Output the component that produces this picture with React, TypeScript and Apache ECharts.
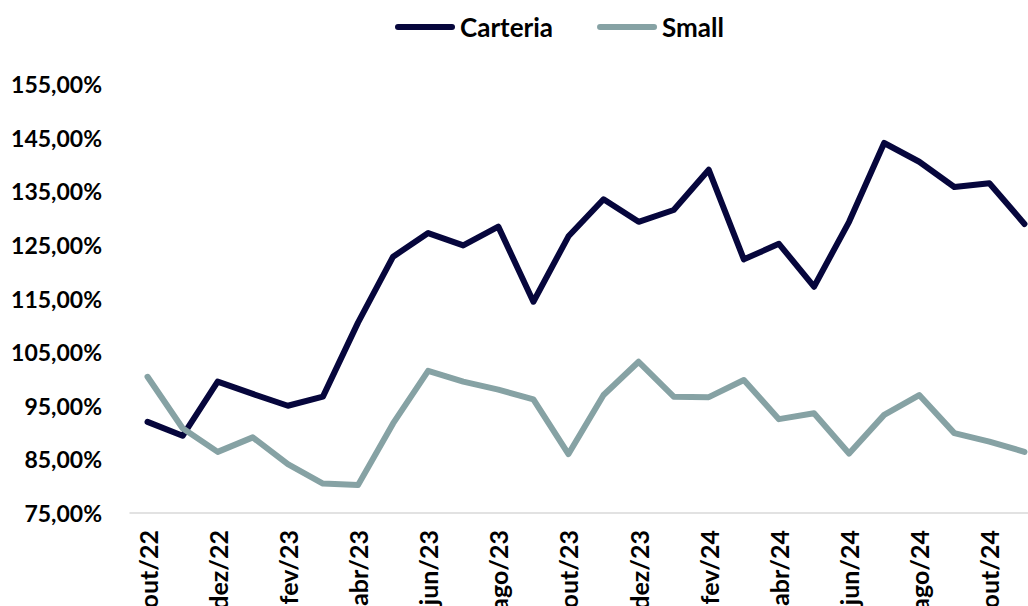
import React, { useEffect, useRef } from "react";
import * as echarts from "echarts";

const categories = [
  "out/22", "nov/22", "dez/22", "jan/23", "fev/23", "mar/23", "abr/23", "mai/23", "jun/23",
  "jul/23", "ago/23", "set/23", "out/23", "nov/23", "dez/23", "jan/24", "fev/24", "mar/24",
  "abr/24", "mai/24", "jun/24", "jul/24", "ago/24", "set/24", "out/24", "nov/24",
];

const carteria = [
  92.0, 89.4, 99.5, 97.2, 95.0, 96.7, 110.5, 122.8, 127.2,
  124.9, 128.4, 114.4, 126.6, 133.5, 129.3, 131.5, 139.0, 122.3,
  125.2, 117.2, 129.3, 144.0, 140.5, 135.8, 136.5, 128.9,
];

const small = [
  100.4, 90.8, 86.4, 89.1, 84.1, 80.5, 80.2, 91.7, 101.5,
  99.5, 98.0, 96.2, 86.0, 97.0, 103.2, 96.7, 96.6, 99.8,
  92.5, 93.6, 86.1, 93.3, 97.0, 89.9, 88.3, 86.4,
];

const yMin = 75;
const yMax = 155;
const yStep = 10;

const FONT = "Lato";
const capsule = "path://M3,0 H57 A3,3 0 0 1 57,6 H3 A3,3 0 0 1 3,0 Z";

export default function App() {
  const ref = useRef<HTMLDivElement>(null);
  useEffect(() => {
    if (!ref.current) return;
    const chart = echarts.init(ref.current, null, { renderer: "svg" });
    chart.setOption({
      animation: false,
      backgroundColor: "#ffffff",
      textStyle: { fontFamily: FONT },
      legend: {
        top: 9,
        left: 390,
        itemWidth: 60,
        itemHeight: 6,
        itemGap: 44,
        icon: capsule,
        textStyle: { fontFamily: FONT, fontWeight: "bold", fontSize: 26, color: "#000" },
        data: [
          { name: "Carteria", icon: capsule },
          { name: "Small", icon: capsule },
        ],
      },
      grid: {
        left: 130,
        right: -14,
        top: 84,
        bottom: 93,
        containLabel: false,
        outerBoundsMode: "none",
      },
      xAxis: {
        type: "category",
        data: categories,
        boundaryGap: true,
        axisLine: { show: true, lineStyle: { color: "#d9d9d9", width: 1.5 } },
        axisTick: { show: false },
        axisLabel: {
          interval: 1,
          rotate: 90,
          margin: 17,
          fontFamily: FONT,
          fontWeight: "bold",
          fontSize: 25,
          color: "#000",
        },
      },
      yAxis: {
        type: "value",
        min: yMin,
        max: yMax,
        interval: yStep,
        splitLine: { show: false },
        axisLine: { show: false },
        axisTick: { show: false },
        axisLabel: {
          margin: 28,
          fontFamily: FONT,
          fontWeight: "bold",
          fontSize: 23,
          color: "#000",
          formatter: (v: number) => v.toFixed(2).replace(".", ",") + "%",
        },
      },
      series: [
        {
          name: "Carteria",
          type: "line",
          data: carteria,
          symbol: "none",
          itemStyle: { color: "#06063c" },
          lineStyle: { color: "#06063c", width: 6, cap: "round", join: "round" },
        },
        {
          name: "Small",
          type: "line",
          data: small,
          symbol: "none",
          itemStyle: { color: "#86a2a4" },
          lineStyle: { color: "#86a2a4", width: 6, cap: "round", join: "round" },
        },
      ],
    });
    return () => chart.dispose();
  }, []);
  return (
    <div
      ref={ref}
      style={{ position: "absolute", left: 0, top: 0, width: 1028, height: 606 }}
    />
  );
}
